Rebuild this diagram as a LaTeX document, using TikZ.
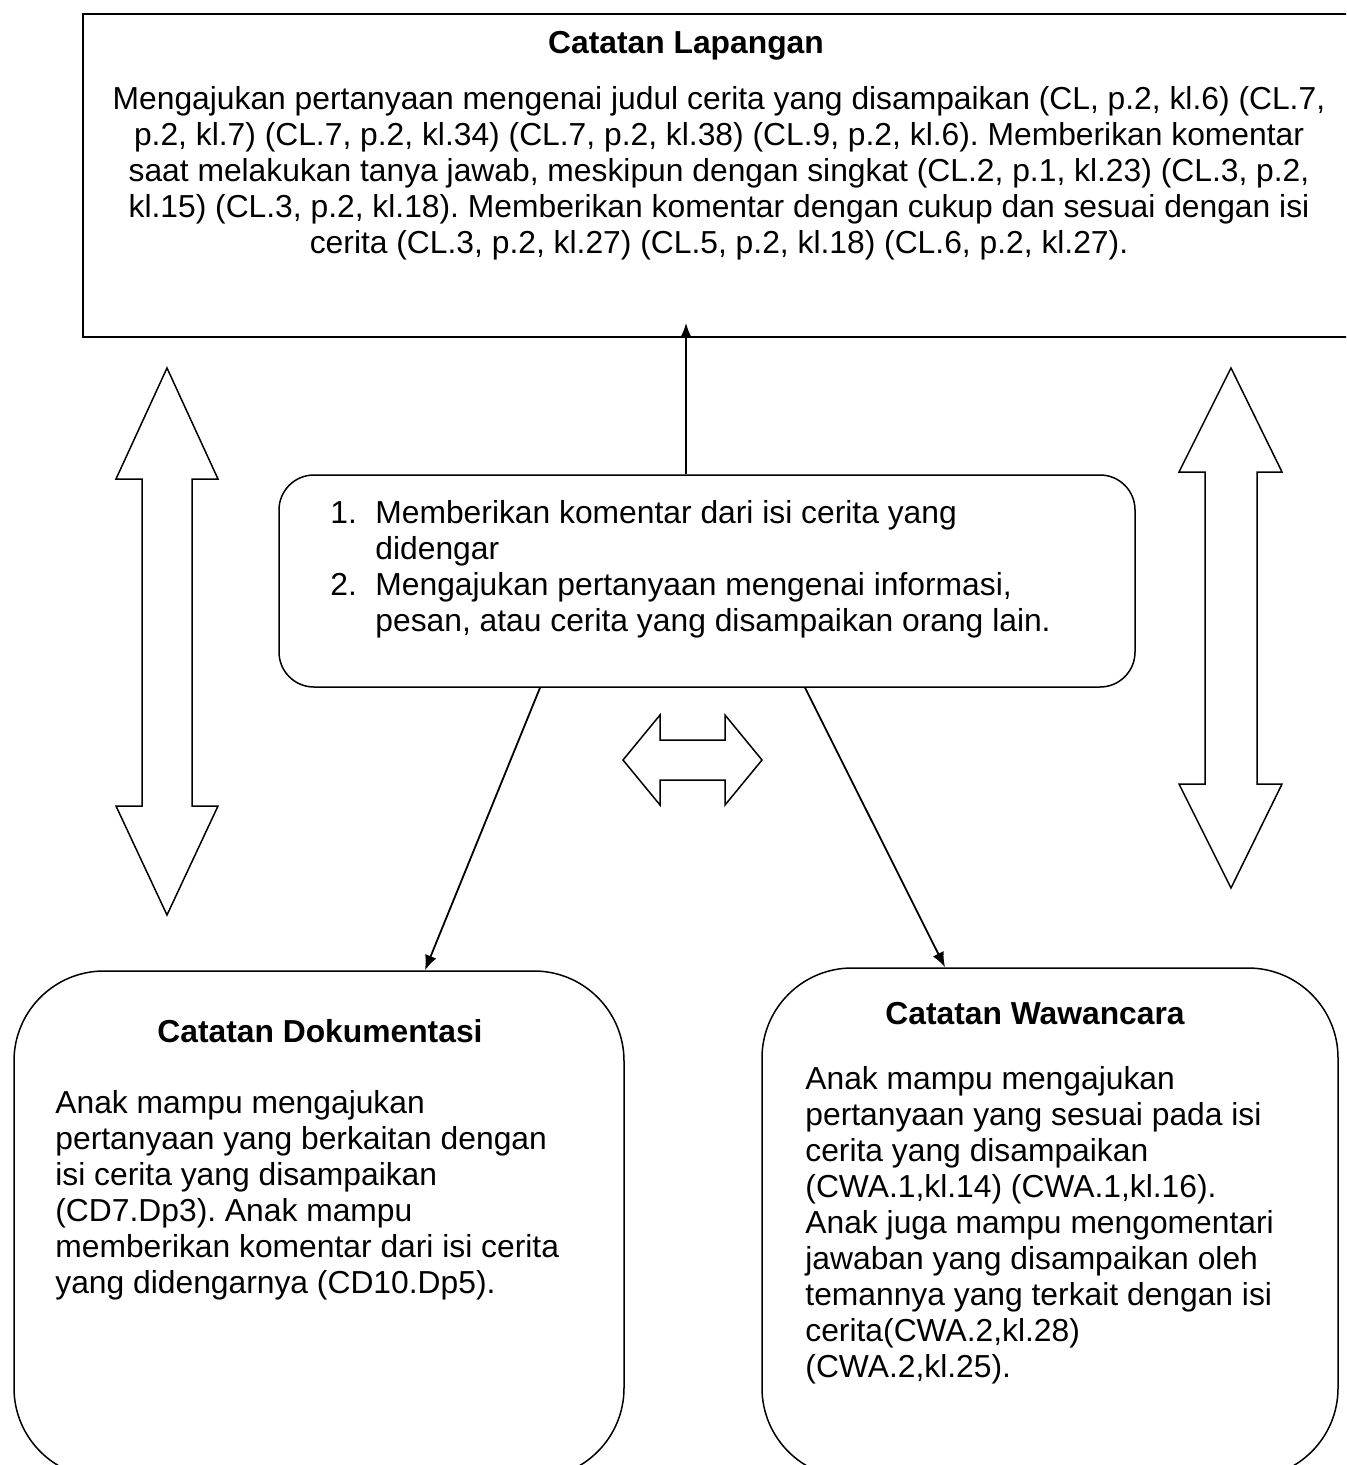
\documentclass[tikz,border=0pt]{standalone}
\usepackage{fontspec}
\setmainfont{Liberation Sans}
\usetikzlibrary{arrows.meta}
\frenchspacing
\tikzset{
  box/.style={draw, line width=0.75pt, inner sep=0pt},
  txt/.style={inner sep=0pt, font=\fontsize{15.9pt}{18pt}\selectfont},
  ttl/.style={inner sep=0pt, font=\fontsize{15.9pt}{18pt}\selectfont\bfseries},
  link/.style={-{Latex[length=7.5pt,width=6pt]}, line width=0.9pt},
  fat/.style={line width=0.75pt, line join=miter},
}
\begin{document}
\begin{tikzpicture}[x=0.5pt, y=-0.5pt]
        \useasboundingbox (0,0) rectangle (1346,1465);
        \clip (0,0) rectangle (1346,1465);
        \node[box, line width=1pt, minimum width=638.5pt, minimum height=161.5pt] (lap) at (721.5,175.5) {};
        \node[box, rounded corners=17.5pt, minimum width=428pt, minimum height=106pt] (mid) at (707,581) {};
        \node[box, rounded corners=45pt, minimum width=305pt, minimum height=253.5pt] (dok) at (319,1224.5) {};
        \node[box, rounded corners=45pt, minimum width=288pt, minimum height=255pt] (waw) at (1050,1223) {};
        \node[ttl] (lapT) at (686,46) {Catatan Lapangan};
        \node[txt, align=center] (lapB) at (719,173) {Mengajukan pertanyaan mengenai judul cerita yang disampaikan (CL, p.2, kl.6) (CL.7,\\ p.2, kl.7) (CL.7, p.2, kl.34) (CL.7, p.2, kl.38) (CL.9, p.2, kl.6). Memberikan komentar\\ saat melakukan tanya jawab, meskipun dengan singkat (CL.2, p.1, kl.23) (CL.3, p.2,\\ kl.15) (CL.3, p.2, kl.18). Memberikan komentar dengan cukup dan sesuai dengan isi\\ cerita (CL.3, p.2, kl.27) (CL.5, p.2, kl.18) (CL.6, p.2, kl.27).};
        \node[txt, align=left, anchor=west] (midL) at (330,569) {\makebox[22.5pt][l]{1.}Memberikan komentar dari isi cerita yang\\ \hspace*{22.5pt}didengar\\ \makebox[22.5pt][l]{2.}Mengajukan pertanyaan mengenai informasi,\\ \hspace*{22.5pt}pesan, atau cerita yang disampaikan orang lain.};
        \node[ttl] (dokT) at (320,1031) {Catatan Dokumentasi};
        \node[txt, align=left, anchor=west] (dokB) at (55,1195) {Anak mampu mengajukan\\ pertanyaan yang berkaitan dengan\\ isi cerita yang disampaikan\\ (CD7.Dp3). Anak mampu\\ memberikan komentar dari isi cerita\\ yang didengarnya (CD10.Dp5).};
        \node[ttl] (wawT) at (1035,1014) {Catatan Wawancara};
        \node[txt, align=left, anchor=west] (wawB) at (805,1225) {Anak mampu mengajukan\\ pertanyaan yang sesuai pada isi\\ cerita yang disampaikan\\ (CWA.1,kl.14) (CWA.1,kl.16).\\ Anak juga mampu mengomentari\\ jawaban yang disampaikan oleh\\ temannya yang terkait dengan isi\\ cerita(CWA.2,kl.28)\\ (CWA.2,kl.25).};
        \draw[link] ([xshift=-10.5pt]mid.north) -- ([xshift=-17.75pt,yshift=7.5pt]lap.south);
        \draw[link] ([xshift=-83.5pt]mid.south) -- ([xshift=53pt]dok.north);
        \draw[link] ([xshift=49pt]mid.south) -- ([xshift=-52.5pt]waw.north);
        \draw[fat] (167,368) -- (218,479) -- (192,479) -- (192,806) -- (218,806) -- (167,915) -- (116,806) -- (142,806) -- (142,479) -- (116,479) -- cycle;
        \draw[fat] (1231,368) -- (1282,472) -- (1257,472) -- (1257,784) -- (1282,784) -- (1231,888) -- (1179,784) -- (1205,784) -- (1205,472) -- (1179,472) -- cycle;
        \draw[fat] (623,760) -- (660,715) -- (660,740) -- (725,740) -- (725,715) -- (762,760) -- (725,805) -- (725,780) -- (660,780) -- (660,805) -- cycle;
    \end{tikzpicture}
\end{document}
